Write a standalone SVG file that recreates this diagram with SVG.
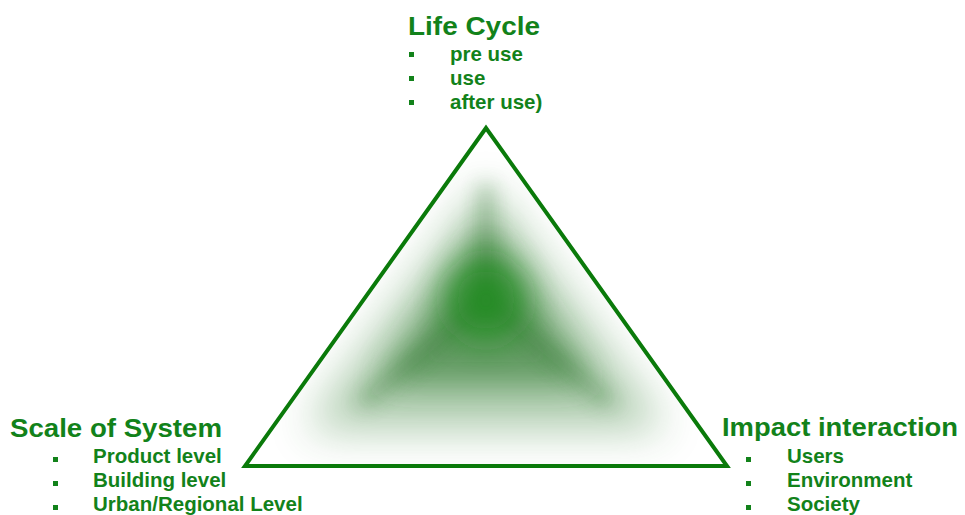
<svg xmlns="http://www.w3.org/2000/svg" width="965" height="515" viewBox="0 0 965 515">
<style>
.t{font-family:"Liberation Sans",Arial,sans-serif;font-weight:bold;fill:#12821a}
.h{font-size:26px}
.i{font-size:20.5px}
.b{fill:#12821a}
.sh{fill:#2f7a2f}
</style>
<defs>
<filter id="b1" x="-40%" y="-40%" width="180%" height="180%"><feGaussianBlur stdDeviation="22"/></filter>
<filter id="b2" x="-40%" y="-40%" width="180%" height="180%"><feGaussianBlur stdDeviation="16"/></filter>
<filter id="b3" x="-60%" y="-60%" width="220%" height="220%"><feGaussianBlur stdDeviation="10"/></filter>
<filter id="b4" x="-80%" y="-80%" width="260%" height="260%"><feGaussianBlur stdDeviation="16"/></filter>
<clipPath id="clip"><polygon points="486,128 245,466 727,466"/></clipPath>
</defs>
<rect width="965" height="515" fill="#ffffff"/>
<g id="triangle">
<g clip-path="url(#clip)">
<polygon class="sh" points="486,185 305,430 667,430" opacity="0.38" filter="url(#b1)"/>
<polygon class="sh" points="486,225 380,385 592,385" opacity="0.6" filter="url(#b2)"/>
<g opacity="0.45" filter="url(#b3)" stroke="#2a752a" stroke-width="12" stroke-linecap="round">
<line x1="486" y1="190" x2="486" y2="300"/>
<line x1="486" y1="300" x2="365" y2="400"/>
<line x1="486" y1="300" x2="607" y2="400"/>
</g>
<ellipse cx="486" cy="300" rx="40" ry="42" fill="#128a12" opacity="0.7" filter="url(#b4)"/>
</g>
<polygon points="486,128 245,466 727,466" fill="none" stroke="#0a7a0a" stroke-width="4" stroke-linejoin="miter"/>
</g>
<g id="life-cycle">
<text class="t h" x="408" y="35" textLength="132" lengthAdjust="spacingAndGlyphs">Life Cycle</text>
<rect class="b" x="409" y="52" width="5" height="5"/>
<rect class="b" x="409" y="76" width="5" height="5"/>
<rect class="b" x="409" y="100" width="5" height="5"/>
<text class="t i" x="450" y="61">pre use</text>
<text class="t i" x="450" y="85">use</text>
<text class="t i" x="450" y="109">after use)</text>
</g>
<g id="scale-of-system">
<text class="t h" x="10" y="437" textLength="212" lengthAdjust="spacingAndGlyphs">Scale of System</text>
<rect class="b" x="53" y="457" width="5" height="5"/>
<rect class="b" x="53" y="481" width="5" height="5"/>
<rect class="b" x="53" y="505" width="5" height="5"/>
<text class="t i" x="93" y="463">Product level</text>
<text class="t i" x="93" y="487">Building level</text>
<text class="t i" x="93" y="511">Urban/Regional Level</text>
</g>
<g id="impact-interaction">
<text class="t h" x="722" y="436" textLength="236" lengthAdjust="spacingAndGlyphs">Impact interaction</text>
<rect class="b" x="746" y="457" width="5" height="5"/>
<rect class="b" x="746" y="481" width="5" height="5"/>
<rect class="b" x="746" y="505" width="5" height="5"/>
<text class="t i" x="787" y="463">Users</text>
<text class="t i" x="787" y="487">Environment</text>
<text class="t i" x="787" y="511">Society</text>
</g>
</svg>
